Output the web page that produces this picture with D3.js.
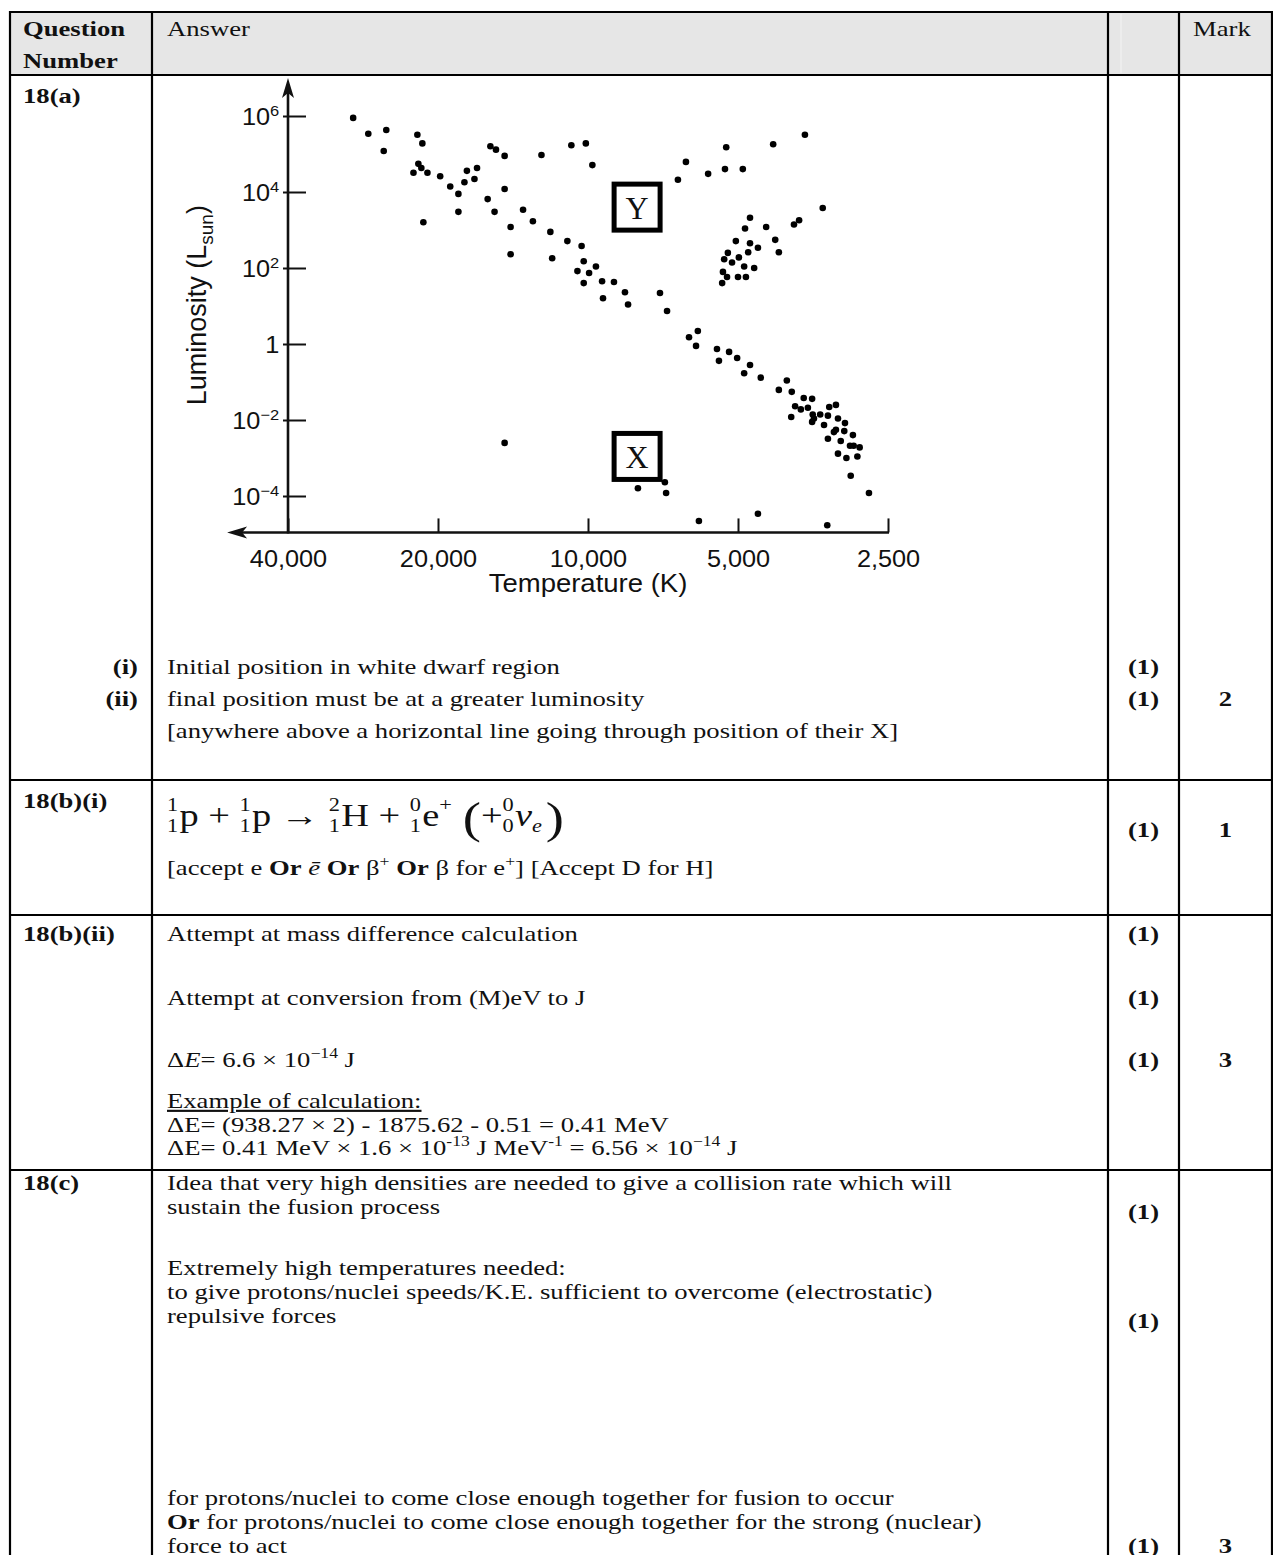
<!DOCTYPE html>
<html>
<head>
<meta charset="utf-8">
<script src="https://cdn.jsdelivr.net/npm/d3@7"></script>
<style>
  body { margin: 0; background: #fff; }
  svg text { white-space: pre; }
  .serif { font-family: "Liberation Serif", "Times New Roman", serif; fill: #111; }
  .sans { font-family: "Liberation Sans", Arial, sans-serif; fill: #111; }
</style>
</head>
<body>
<div id="page"></div>
<script>
// H-R diagram values
const tempTicks = [40000, 20000, 10000, 5000, 2500];
const tempTickLabels = ['40,000', '20,000', '10,000', '5,000', '2,500'];
const lumTicks = [1e6, 1e4, 1e2, 1, 1e-2, 1e-4];

const starTemp = [
    29600, 27600, 25400, 25700, 22000, 21500, 21900, 21600, 22400, 21000,
    19800, 17500, 16700, 17700, 16900, 18900, 18200, 18200, 21400, 15700,
    15300, 14700, 12400, 14700, 15900, 15400, 13500, 12900, 14300, 14300,
    11900, 10800, 10100, 9800, 11000, 10300, 11800, 10200, 10500, 9950,
    9640, 10200, 9370, 8870, 9330, 8430, 8310, 7170, 6940,
    6360, 6600, 5740, 5280, 5310, 4890, 4250, 3670,
    3380, 3770, 3860, 4390, 4210, 4140, 4730, 4840, 5050, 4730,
    4560, 4770, 5240, 4980, 5330, 5140, 4860, 4640, 5360, 5260,
    5000, 4820, 5380,
    6270, 6020, 6070, 5510, 5210, 5460, 5020, 4730, 4860, 4500,
    3990, 4140, 3900, 3690, 3550, 3840, 3740, 3620, 3910, 3540,
    3420, 3280, 3180, 3300, 3550, 3520, 3360, 3150, 3050, 3210,
    3180, 3060, 2940, 3300, 3110, 2980, 2930, 2850, 3150, 3030,
    2880, 2970, 2730,
    14700, 7940, 7010, 6970, 5990, 4560, 3310
];
const starLum = [
    8.9e5, 3.4e5, 4.3e5, 1.2e5, 3.2e5, 1.9e5, 5.5e4, 4.3e4, 3.2e4, 3.2e4,
    2.6e4, 3.6e4, 4.3e4, 1.8e4, 2.2e4, 1.4e4, 8.9e3, 3.0e3, 1.6e3, 1.6e5,
    1.3e5, 8.9e4, 9.4e4, 1.2e4, 6.5e3, 3.0e3, 3.4e3, 1.7e3, 1.2e3, 230,
    890, 1.7e5, 1.9e5, 5.1e4, 510, 380, 180, 150, 83, 74,
    110, 40, 45, 43, 16, 23, 11, 22, 7.4,
    6.2e4, 2.1e4, 3.0e4, 1.5e5, 4.0e4, 4.0e4, 1.8e5, 3.2e5,
    3.8e3, 1.8e3, 1.4e3, 1.2e3, 550, 260, 2.1e3, 1.1e3, 510, 450,
    340, 260, 250, 190, 170, 140, 110, 100, 79, 58,
    58, 58, 40,
    1.5, 2.2, 0.89, 0.74, 0.62, 0.36, 0.43, 0.28, 0.17, 0.13,
    0.11, 0.062, 0.055, 0.038, 0.036, 0.023, 0.019, 0.021, 0.012, 0.014,
    0.014, 0.022, 0.025, 0.013, 0.0089, 0.011, 0.0074, 0.011, 0.0083, 0.0048,
    0.0055, 0.0051, 0.0040, 0.0032, 0.0028, 0.0021, 0.0021, 0.0019, 0.0013, 0.0010,
    0.0011, 0.00034, 0.00012,
    0.0025, 0.00016, 0.00023, 0.00012, 0.000022, 0.000034, 0.000017
];
// boxed region labels
const boxLabels = ['Y', 'X'];
const boxTemp = [7970, 7970];
const boxLum = [4000, 0.0011];
// axis extents (arrow tips / axis crossing)
const tempArrow = 53000;
const lumArrow = 1e7;
const lumFloor = 1.1e-5;

const width = 1273;
const height = 1555;
const fs = 21.5;     // table text size
const wide = 1.24;   // the scan is stretched sideways

const svg = d3.select('#page').append('svg')
    .attr('width', width)
    .attr('height', height);

// ---------- mark scheme table ----------
const colX = [10, 152, 1108, 1179, 1272];
const rowY = [12, 75, 780, 915, 1170];

svg.append('rect')
    .attr('x', colX[0]).attr('y', rowY[0])
    .attr('width', colX[4] - colX[0]).attr('height', rowY[1] - rowY[0])
    .attr('fill', '#e6e6e6');
svg.append('line')
    .attr('x1', 1121).attr('x2', 1121).attr('y1', rowY[0] + 2).attr('y2', rowY[1] - 2)
    .attr('stroke', '#f4f4f4').attr('stroke-width', 1);

const grid = svg.append('g').attr('stroke', '#000').attr('stroke-width', 2.2);
colX.forEach(cx => grid.append('line')
    .attr('x1', cx).attr('x2', cx).attr('y1', rowY[0] - 1).attr('y2', height + 5));
rowY.forEach(ry => grid.append('line')
    .attr('x1', colX[0] - 1).attr('x2', colX[4] + 1).attr('y1', ry).attr('y2', ry));

function rich(x, y, segs, opts = {}) {
    const size = opts.size || fs;
    const t = svg.append('text')
        .attr('class', 'serif')
        .attr('transform', `translate(${x},${y}) scale(${wide},1)`)
        .attr('text-anchor', opts.anchor || 'start')
        .style('font-size', size + 'px')
        .style('font-weight', opts.bold ? 'bold' : 'normal');
    let shift = 0;
    segs.forEach(s => {
        if (typeof s === 'string') s = { t: s };
        const ts = t.append('tspan').text(s.t);
        const target = s.sup ? -size * 0.4 : 0;
        if (target !== shift) { ts.attr('dy', target - shift); shift = target; }
        if (s.sup) ts.style('font-size', (size * 0.66) + 'px');
        if (s.b) ts.style('font-weight', 'bold');
        if (s.i) ts.style('font-style', 'italic');
        if (s.u) ts.style('text-decoration', 'underline');
    });
    return t;
}

// header
rich(23, 36, ['Question'], { bold: true });
rich(23, 68, ['Number'], { bold: true });
rich(167, 36, ['Answer']);
rich(1193, 36, ['Mark']);

// question numbers
rich(23, 103, ['18(a)'], { bold: true });
rich(23, 808, ['18(b)(i)'], { bold: true });
rich(23, 941, ['18(b)(ii)'], { bold: true });
rich(23, 1190, ['18(c)'], { bold: true });

// 18(a) text
rich(138, 674, ['(i)'], { bold: true, anchor: 'end' });
rich(138, 706, ['(ii)'], { bold: true, anchor: 'end' });
rich(167, 674, ['Initial position in white dwarf region']);
rich(167, 706, ['final position must be at a greater luminosity']);
rich(167, 738, ['[anywhere above a horizontal line going through position of their X]']);

// 18(b)(i) text
rich(167, 875, ['[accept e ', { t: 'Or', b: 1 }, ' ', { t: 'e\u0304', i: 1 }, ' ', { t: 'Or', b: 1 },
    ' \u03b2', { t: '+', sup: 1 }, ' ', { t: 'Or', b: 1 }, ' \u03b2 for e', { t: '+', sup: 1 },
    '] [Accept D for H]']);

// 18(b)(ii) text
rich(167, 941, ['Attempt at mass difference calculation']);
rich(167, 1005, ['Attempt at conversion from (M)eV to J']);
rich(167, 1067, ['\u0394', { t: 'E', i: 1 }, '= 6.6 \u00d7 10', { t: '\u221214', sup: 1 }, ' J']);
rich(167, 1108, [{ t: 'Example of calculation:', u: 1 }]);
rich(167, 1132, ['\u0394E= (938.27 \u00d7 2) - 1875.62 - 0.51 = 0.41 MeV']);
rich(167, 1155, ['\u0394E= 0.41 MeV \u00d7 1.6 \u00d7 10', { t: '-13', sup: 1 }, ' J MeV', { t: '-1', sup: 1 },
    ' = 6.56 \u00d7 10', { t: '\u221214', sup: 1 }, ' J']);

// 18(c) text
rich(167, 1190, ['Idea that very high densities are needed to give a collision rate which will']);
rich(167, 1214, ['sustain the fusion process']);
rich(167, 1275, ['Extremely high temperatures needed:']);
rich(167, 1299, ['to give protons/nuclei speeds/K.E. sufficient to overcome (electrostatic)']);
rich(167, 1323, ['repulsive forces']);
rich(167, 1505, ['for protons/nuclei to come close enough together for fusion to occur']);
rich(167, 1529, [{ t: 'Or', b: 1 }, ' for protons/nuclei to come close enough together for the strong (nuclear)']);
rich(167, 1553, ['force to act']);

// marks
const markX = (colX[2] + colX[3]) / 2;
const totalX = (colX[3] + colX[4]) / 2;
[674, 706, 837, 941, 1005, 1067, 1219, 1328, 1553].forEach(my =>
    rich(markX, my, ['(1)'], { bold: true, anchor: 'middle' }));
rich(totalX, 706, ['2'], { bold: true, anchor: 'middle' });
rich(totalX, 837, ['1'], { bold: true, anchor: 'middle' });
rich(totalX, 1067, ['3'], { bold: true, anchor: 'middle' });
rich(totalX, 1553, ['3'], { bold: true, anchor: 'middle' });

// ---------- nuclear equation ----------
const eq = svg.append('g')
    .attr('class', 'serif')
    .attr('transform', `translate(167,0) scale(${wide},1)`);
const eqBase = 826;
const bigSize = 31;
const scriptSize = 18;
let cursor = 0;

function put(text, size, yy, style = {}, anchor = 'start', at = null) {
    const t = eq.append('text')
        .attr('class', 'serif')
        .attr('x', at === null ? cursor : at).attr('y', yy)
        .attr('text-anchor', anchor)
        .style('font-size', size + 'px')
        .style('font-style', style.i ? 'italic' : 'normal')
        .text(text);
    return t.node().getComputedTextLength();
}
function nuclide(a, z, sym, opt = {}) {
    const wa = put(a, scriptSize, eqBase - 15, {}, 'end', cursor + 9);
    const wz = put(z, scriptSize, eqBase + 6, {}, 'end', cursor + 9);
    cursor += Math.max(wa, wz, 9) + 1;
    cursor += put(sym, bigSize, eqBase, { i: opt.i });
    if (opt.sub) cursor += put(opt.sub, scriptSize, eqBase + 6, { i: 1 }) + 1;
    if (opt.sup) cursor += put(opt.sup, scriptSize, eqBase - 15) + 1;
}
function op(text, size = bigSize, dy = 0) {
    cursor += put(text, size, eqBase + dy);
}

nuclide('1', '1', 'p');
op(' + ');
nuclide('1', '1', 'p');
op(' \u2192 ');
nuclide('2', '1', 'H');
op(' + ');
nuclide('0', '1', 'e', { sup: '+' });
op(' ', bigSize);
op('(', 44, 7);
op('+');
nuclide('0', '0', '\u03bd', { i: true, sub: 'e' });
cursor += 2;
op(')', 44, 7);

// ---------- H-R diagram ----------
const x = d3.scaleLog().domain([40000, 2500]).range([288, 888]);
const y = d3.scaleLog().domain([1e-4, 1e6]).range([496, 116]);
const stretch = 'scale(1.1,1)';

const chart = svg.append('g').attr('class', 'hr');
const axisY0 = y(lumFloor);
const axisX0 = x(40000);

// y axis
const yAxis = d3.axisLeft(y)
    .tickValues(lumTicks)
    .tickSize(-18)
    .tickPadding(9)
    .tickFormat('');
const yg = chart.append('g')
    .attr('transform', `translate(${axisX0},0)`)
    .call(yAxis);
yg.select('.domain').remove();
yg.selectAll('.tick line').attr('x1', -5).attr('stroke', '#111').attr('stroke-width', 2);
yg.selectAll('.tick').each(function (d) {
    const e = Math.round(Math.log10(d));
    const t = d3.select(this).append('text')
        .attr('class', 'sans')
        .attr('x', -8).attr('dy', '0.36em')
        .attr('text-anchor', 'end')
        .attr('transform', stretch)
        .style('font-size', '23px');
    if (e === 0) {
        t.text('1');
    } else {
        t.append('tspan').text('10');
        t.append('tspan').attr('dy', -9).style('font-size', '15px')
            .text(e < 0 ? '\u2212' + Math.abs(e) : String(e));
    }
});

// x axis
const xAxis = d3.axisBottom(x)
    .tickValues(tempTicks)
    .tickSize(-14)
    .tickPadding(18)
    .tickFormat((d, i) => tempTickLabels[i]);
const xg = chart.append('g')
    .attr('transform', `translate(0,${axisY0})`)
    .call(xAxis);
xg.select('.domain').remove();
xg.selectAll('.tick line').attr('stroke', '#111').attr('stroke-width', 2);
xg.selectAll('.tick text')
    .attr('class', 'sans')
    .attr('transform', stretch)
    .style('font-size', '23px')
    .attr('fill', '#111');

// axis lines with arrow heads
chart.append('line')
    .attr('x1', axisX0).attr('x2', axisX0)
    .attr('y1', axisY0 + 1).attr('y2', y(lumArrow) + 8)
    .attr('stroke', '#111').attr('stroke-width', 2.6);
chart.append('line')
    .attr('x1', x(2500) + 1).attr('x2', x(tempArrow) + 8)
    .attr('y1', axisY0).attr('y2', axisY0)
    .attr('stroke', '#111').attr('stroke-width', 2.6);
chart.append('path')
    .attr('d', 'M0,0 L-6,20 L0,15 L6,20 Z')
    .attr('transform', `translate(${axisX0},${y(lumArrow)})`)
    .attr('fill', '#111');
chart.append('path')
    .attr('d', 'M0,0 L-6,20 L0,15 L6,20 Z')
    .attr('transform', `translate(${x(tempArrow)},${axisY0}) rotate(-90)`)
    .attr('fill', '#111');

// axis titles
chart.append('text')
    .attr('class', 'sans')
    .attr('transform', `translate(${x(10000)},${axisY0 + 60}) ${stretch}`)
    .attr('text-anchor', 'middle')
    .style('font-size', '25px')
    .text('Temperature (K)');
const ylab = chart.append('text')
    .attr('class', 'sans')
    .attr('transform', `translate(206,${(axisY0 + y(lumArrow)) / 2}) rotate(-90)`)
    .attr('text-anchor', 'middle')
    .style('font-size', '27px');
ylab.append('tspan').text('Luminosity (L');
ylab.append('tspan').attr('dy', 7).style('font-size', '19px').text('sun');
ylab.append('tspan').attr('dy', -7).text(')');

// stars
chart.append('g').selectAll('circle')
    .data(starTemp)
    .enter()
    .append('circle')
    .attr('cx', d => x(d))
    .attr('cy', (d, i) => y(starLum[i]))
    .attr('r', 3.3)
    .attr('fill', '#000');

// boxed labels
const boxes = chart.append('g').selectAll('g')
    .data(boxLabels)
    .enter()
    .append('g')
    .attr('transform', (d, i) => `translate(${x(boxTemp[i])},${y(boxLum[i])})`);
boxes.append('rect')
    .attr('x', -23).attr('y', -23)
    .attr('width', 46).attr('height', 46)
    .attr('fill', '#fff')
    .attr('stroke', '#000')
    .attr('stroke-width', 5);
boxes.append('text')
    .attr('class', 'serif')
    .attr('text-anchor', 'middle')
    .attr('dy', '0.36em')
    .style('font-size', '32px')
    .attr('fill', '#222')
    .text(d => d);
</script>
</body>
</html>
